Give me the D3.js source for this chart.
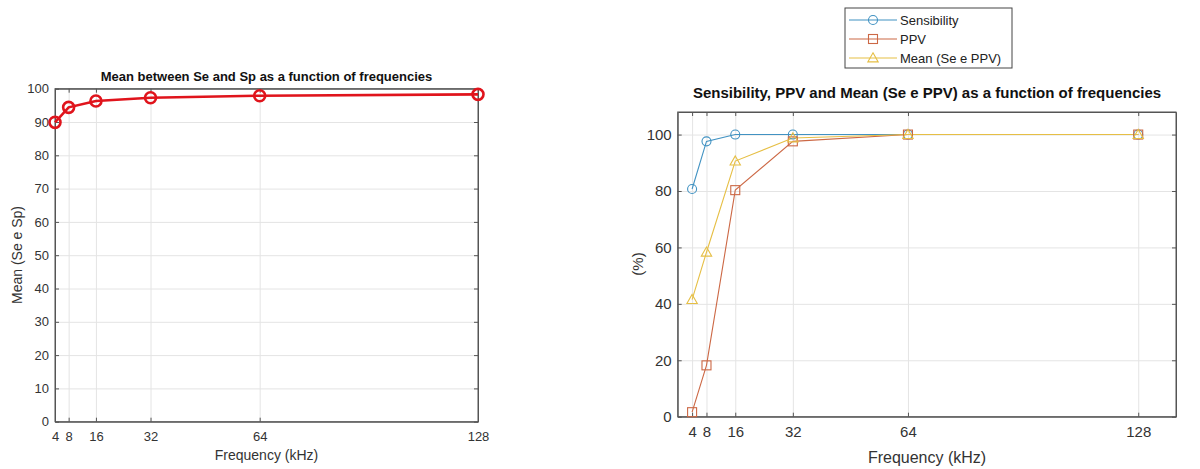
<!DOCTYPE html>
<html>
<head>
<meta charset="utf-8">
<script src="https://cdn.jsdelivr.net/npm/d3@7"></script>
<style>
  body { margin: 0; background: #fff; }
  svg { font-family: 'Liberation Sans', Arial, sans-serif; }
  .tick text { fill: #333; }
  .axis path, .axis line { stroke: #555; }
  .grid line { stroke: #e4e4e4; }
  .grid path { display: none; }
</style>
</head>
<body>
<div class="holder"></div>
<script>
const freqs = [4, 8, 16, 32, 64, 128];

// left panel
const meanSeSp = [89.9, 94.4, 96.3, 97.3, 97.9, 98.3];
const leftYTicks = [0, 10, 20, 30, 40, 50, 60, 70, 80, 90, 100];

// right panel
const sensibility = [80.7, 97.6, 100, 100, 100, 100];
const ppv = [1.6, 18.2, 80.3, 97.6, 100, 100];
const meanSePpv = [41.5, 58.3, 90.6, 98.8, 100, 100];
const rightYTicks = [0, 20, 40, 60, 80, 100];
const seriesNames = ['Sensibility', 'PPV', 'Mean (Se e PPV)'];
const seriesColors = ['#4192c2', '#cc6845', '#e6bf45'];
const seriesShapes = ['circle', 'square', 'triangle'];

const svg = d3
  .select('.holder')
  .append('svg')
  .attr('width', 1200)
  .attr('height', 469);

function drawFrame(x, y, yTicks, fontSize) {
  const [x0, x1] = x.range();
  const [y0, y1] = y.range();

  // grid
  svg.append('g')
    .attr('class', 'grid')
    .attr('transform', `translate(0, ${y0})`)
    .call(d3.axisBottom(x).tickValues(freqs).tickSize(-(y0 - y1)).tickFormat(''));
  svg.append('g')
    .attr('class', 'grid')
    .attr('transform', `translate(${x0}, 0)`)
    .call(d3.axisLeft(y).tickValues(yTicks).tickSize(-(x1 - x0)).tickFormat(''));

  // box
  svg.append('rect')
    .attr('x', x0)
    .attr('y', y1)
    .attr('width', x1 - x0)
    .attr('height', y0 - y1)
    .attr('fill', 'none')
    .attr('stroke', '#555')
    .attr('stroke-width', 1);

  const xAxis = svg.append('g')
    .attr('class', 'axis')
    .attr('transform', `translate(0, ${y0})`)
    .call(d3.axisBottom(x).tickValues(freqs).tickSizeInner(-4).tickSizeOuter(0).tickPadding(10));
  xAxis.selectAll('text').style('font-size', fontSize + 'px');

  svg.append('g')
    .attr('class', 'axis')
    .attr('transform', `translate(0, ${y1})`)
    .call(d3.axisTop(x).tickValues(freqs).tickSizeInner(-4).tickSizeOuter(0).tickFormat(''));

  const yAxis = svg.append('g')
    .attr('class', 'axis')
    .attr('transform', `translate(${x0}, 0)`)
    .call(d3.axisLeft(y).tickValues(yTicks).tickSizeInner(-4).tickSizeOuter(0).tickPadding(6));
  yAxis.selectAll('text').style('font-size', fontSize + 'px');

  svg.append('g')
    .attr('class', 'axis')
    .attr('transform', `translate(${x1}, 0)`)
    .call(d3.axisRight(y).tickValues(yTicks).tickSizeInner(-4).tickSizeOuter(0).tickFormat(''));

  svg.selectAll('.axis path').attr('stroke', 'none');
}

function marker(g, shape, cx, cy, color, size, width) {
  if (shape === 'circle') {
    g.append('circle')
      .attr('cx', cx).attr('cy', cy).attr('r', size)
      .attr('fill', 'none').attr('stroke', color).attr('stroke-width', width);
  } else if (shape === 'square') {
    g.append('rect')
      .attr('x', cx - size).attr('y', cy - size)
      .attr('width', size * 2).attr('height', size * 2)
      .attr('fill', 'none').attr('stroke', color).attr('stroke-width', width);
  } else {
    const s = size * 1.15;
    g.append('path')
      .attr('d', `M${cx},${cy - s} L${cx + s},${cy + s * 0.75} L${cx - s},${cy + s * 0.75} Z`)
      .attr('fill', 'none').attr('stroke', color).attr('stroke-width', width);
  }
}

// ---------- left panel ----------
const xLeft = d3.scaleLinear().domain([4, 128]).range([55, 478]);
const yLeft = d3.scaleLinear().domain([0, 100]).range([421.7, 88.7]);
drawFrame(xLeft, yLeft, leftYTicks, 13);

svg.append('path')
  .datum(meanSeSp)
  .attr('fill', 'none')
  .attr('stroke', '#e0141c')
  .attr('stroke-width', 2.6)
  .attr('d', d3.line().x((d, i) => xLeft(freqs[i])).y(d => yLeft(d)));

const leftMarks = svg.append('g');
meanSeSp.forEach((d, i) => marker(leftMarks, 'circle', xLeft(freqs[i]), yLeft(d), '#e0141c', 5.5, 2.6));

svg.append('text')
  .attr('x', 266.5).attr('y', 81)
  .attr('text-anchor', 'middle')
  .style('font-size', '13px').style('font-weight', 'bold').attr('fill', '#111')
  .text('Mean between Se and Sp as a function of frequencies');

svg.append('text')
  .attr('x', 266.5).attr('y', 460)
  .attr('text-anchor', 'middle')
  .style('font-size', '14px').attr('fill', '#333')
  .text('Frequency (kHz)');

svg.append('text')
  .attr('transform', 'translate(22, 255) rotate(-90)')
  .attr('text-anchor', 'middle')
  .style('font-size', '14px').attr('fill', '#333')
  .text('Mean (Se e Sp)');

// ---------- right panel ----------
const xRight = d3.scaleLinear().domain([0, 138.5]).range([677.7, 1176]);
const yRight = d3.scaleLinear().domain([0, 108]).range([416.7, 112]);
drawFrame(xRight, yRight, rightYTicks, 15);

const rightSeries = [sensibility, ppv, meanSePpv];
rightSeries.forEach((values, k) => {
  svg.append('path')
    .datum(values)
    .attr('fill', 'none')
    .attr('stroke', seriesColors[k])
    .attr('stroke-width', 1.1)
    .attr('d', d3.line().x((d, i) => xRight(freqs[i])).y(d => yRight(d)));
});
rightSeries.forEach((values, k) => {
  const g = svg.append('g');
  values.forEach((d, i) => marker(g, seriesShapes[k], xRight(freqs[i]), yRight(d), seriesColors[k], 4.5, 1.1));
});

svg.append('text')
  .attr('x', 927).attr('y', 98)
  .attr('text-anchor', 'middle')
  .style('font-size', '15px').style('font-weight', 'bold').attr('fill', '#111')
  .text('Sensibility, PPV and Mean (Se e PPV) as a function of frequencies');

svg.append('text')
  .attr('x', 927).attr('y', 463)
  .attr('text-anchor', 'middle')
  .style('font-size', '16px').attr('fill', '#333')
  .text('Frequency (kHz)');

svg.append('text')
  .attr('transform', 'translate(643, 264) rotate(-90)')
  .attr('text-anchor', 'middle')
  .style('font-size', '15px').attr('fill', '#333')
  .text('(%)');

// legend
const legend = svg.append('g').attr('transform', 'translate(845, 8)');
legend.append('rect')
  .attr('width', 167).attr('height', 60)
  .attr('fill', '#fff').attr('stroke', '#444').attr('stroke-width', 1);
seriesNames.forEach((name, k) => {
  const ly = 12 + k * 19;
  legend.append('line')
    .attr('x1', 4).attr('x2', 52).attr('y1', ly).attr('y2', ly)
    .attr('stroke', seriesColors[k]).attr('stroke-width', 1.1);
  marker(legend, seriesShapes[k], 28, ly, seriesColors[k], 4.5, 1.1);
  legend.append('text')
    .attr('x', 55).attr('y', ly + 4.5)
    .style('font-size', '13px').attr('fill', '#222')
    .text(name);
});
</script>
</body>
</html>
